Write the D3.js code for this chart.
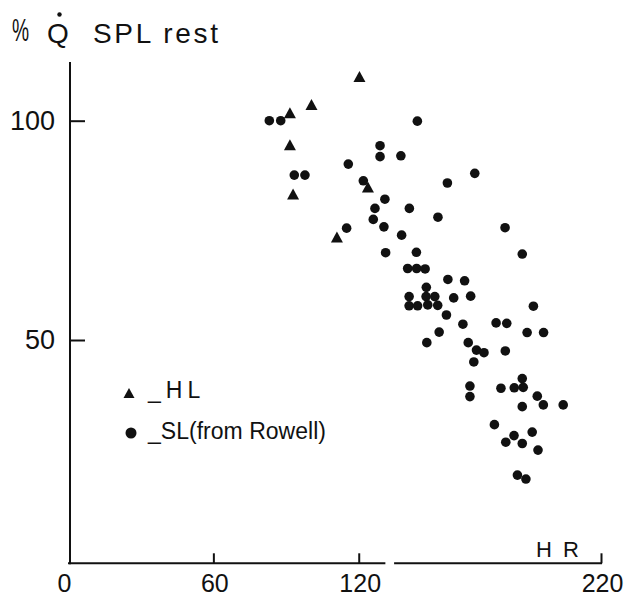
<!DOCTYPE html>
<html>
<head>
<meta charset="utf-8">
<script src="https://cdn.jsdelivr.net/npm/d3@7"></script>
<style>
body { margin: 0; background: #fff; }
text { font-family: "Liberation Sans", Arial, sans-serif; fill: #111; }
</style>
</head>
<body>
<div id="chart"></div>
<script>
// HL (triangles)
var hlHR = [120.3, 100.5, 91.6, 91.6, 92.9, 123.8, 111.0];
var hlQ  = [110.1, 103.7, 101.8, 94.5, 83.3, 84.9, 73.5];

// SL from Rowell (circles)
var slHR = [83.1, 87.8, 144.2, 128.8, 128.8, 137.4, 115.7, 93.4, 97.8, 121.9,
            167.9, 156.6, 130.8, 126.7, 140.9, 126.0, 152.7, 130.4, 115.0, 180.4,
            137.7, 131.1, 143.8, 187.5, 140.2, 143.9, 147.4, 156.8, 163.7, 147.9,
            140.8, 147.8, 151.4, 159.2, 166.2, 140.8, 144.3, 148.5, 152.6, 192.1,
            156.2, 163.0, 176.7, 181.1, 153.2, 189.5, 196.3, 148.1, 165.2, 168.6,
            171.7, 180.5, 167.5, 187.5, 165.9, 178.7, 184.2, 187.9, 165.9, 193.7,
            187.5, 196.2, 204.4, 176.0, 184.1, 191.6, 180.7, 187.5, 194.0, 185.5,
            189.0];
var slQ  = [100.0, 100.0, 99.9, 94.3, 91.8, 92.0, 90.1, 87.6, 87.6, 86.3,
            88.0, 85.8, 82.1, 80.0, 80.0, 77.5, 78.0, 75.8, 75.5, 75.6,
            73.9, 69.9, 70.0, 69.6, 66.3, 66.3, 66.2, 63.8, 63.5, 62.0,
            59.9, 59.9, 59.9, 59.6, 60.0, 57.8, 57.8, 58.0, 57.9, 57.7,
            55.7, 53.6, 53.9, 53.8, 51.8, 51.7, 51.7, 49.4, 49.4, 47.7,
            47.1, 47.5, 45.0, 41.2, 39.5, 39.0, 39.1, 39.2, 37.1, 37.2,
            34.8, 35.2, 35.2, 30.7, 28.2, 29.0, 26.7, 26.4, 24.9, 19.2,
            18.3];

var xTicks = [0, 60, 120, 220];
var yTicks = [50, 100];
var axisBreak = [131, 134.6];
var yTop = 113.4;

var svg = d3.select("#chart").append("svg").attr("width", 629).attr("height", 598);

var x = d3.scaleLinear().domain([0, 220]).range([68, 601]);
var y = d3.scaleLinear().domain([0, 100]).range([559.3, 120.7]);

var axisY = y(0) + 4,  // x axis sits a little under zero
    axisX = x(0) + 2;

var hl = hlHR.map(function(d, i) { return {hr: d, q: hlQ[i]}; });
var sl = slHR.map(function(d, i) { return {hr: d, q: slQ[i]}; });

// axes lines
var axes = svg.append("g").style("stroke", "#111").style("stroke-width", 2).style("fill", "none");
axes.append("line")
    .attr("x1", axisX).attr("x2", axisX)
    .attr("y1", y(yTop)).attr("y2", axisY + 1);
axes.append("line")
    .attr("x1", x(0)).attr("x2", x(axisBreak[0]))
    .attr("y1", axisY).attr("y2", axisY);
axes.append("line")
    .attr("x1", x(axisBreak[1])).attr("x2", x(220) + 1)
    .attr("y1", axisY).attr("y2", axisY);

// x ticks (pointing up) + labels
var xAxis = d3.axisBottom(x).tickValues(xTicks).tickSizeInner(-10).tickSizeOuter(0).tickPadding(11);
var gx = svg.append("g").attr("transform", "translate(0," + axisY + ")").call(xAxis);
gx.select(".domain").remove();
gx.selectAll(".tick line").style("stroke", "#111").style("stroke-width", 2)
    .style("display", function(d) { return d === 0 ? "none" : null; });
gx.selectAll(".tick text").style("font-size", "25px").style("font-family", "Liberation Sans, Arial, sans-serif")
    .attr("dx", function(d) { return d === 0 ? "-4" : "1"; });

// y ticks (pointing right) + labels
var yAxis = d3.axisLeft(y).tickValues(yTicks).tickSizeInner(-15).tickSizeOuter(0).tickPadding(15);
var gy = svg.append("g").attr("transform", "translate(" + axisX + ",0)").call(yAxis);
gy.select(".domain").remove();
gy.selectAll(".tick line").style("stroke", "#111").style("stroke-width", 2);
gy.selectAll(".tick text").style("font-size", "27px").style("font-family", "Liberation Sans, Arial, sans-serif");

// axis titles
var title = svg.append("g");
title.append("text").attr("transform", "translate(12,41) scale(0.62,1)").style("font-size", "31px").text("%");
title.append("text").attr("x", 47).attr("y", 43).style("font-size", "28px").text("Q");
title.append("circle").attr("cx", 59.5).attr("cy", 14.5).attr("r", 2.2).style("fill", "#111");
title.append("text").attr("x", 93).attr("y", 43).style("font-size", "28px")
    .attr("textLength", 125).attr("lengthAdjust", "spacing").text("SPL rest");

svg.append("text").attr("x", 536).attr("y", 557).style("font-size", "22px")
    .style("letter-spacing", "11px").text("HR");

// triangle marker, centred on its box
function tri(w, h) {
    return "M0," + (-h / 2) + "L" + (w / 2) + "," + (h / 2) + "L" + (-w / 2) + "," + (h / 2) + "Z";
}

svg.append("g").selectAll("circle")
    .data(sl)
    .enter().append("circle")
    .attr("cx", function(d) { return x(d.hr); })
    .attr("cy", function(d) { return y(d.q); })
    .attr("r", 4.8)
    .style("fill", "#111");

svg.append("g").selectAll("path")
    .data(hl)
    .enter().append("path")
    .attr("d", tri(12, 11))
    .attr("transform", function(d) { return "translate(" + x(d.hr) + "," + y(d.q) + ")"; })
    .style("fill", "#111");

// legend
var legend = svg.append("g");
legend.append("path").attr("d", tri(11, 10)).attr("transform", "translate(129,393)").style("fill", "#111");
legend.append("text").attr("x", 148).attr("y", 398).style("font-size", "23px")
    .style("letter-spacing", "5px").text("_HL");
legend.append("circle").attr("cx", 131).attr("cy", 433).attr("r", 5.5).style("fill", "#111");
legend.append("text").attr("x", 148).attr("y", 439).style("font-size", "23px")
    .attr("textLength", 178).attr("lengthAdjust", "spacing").text("_SL(from Rowell)");
</script>
</body>
</html>
